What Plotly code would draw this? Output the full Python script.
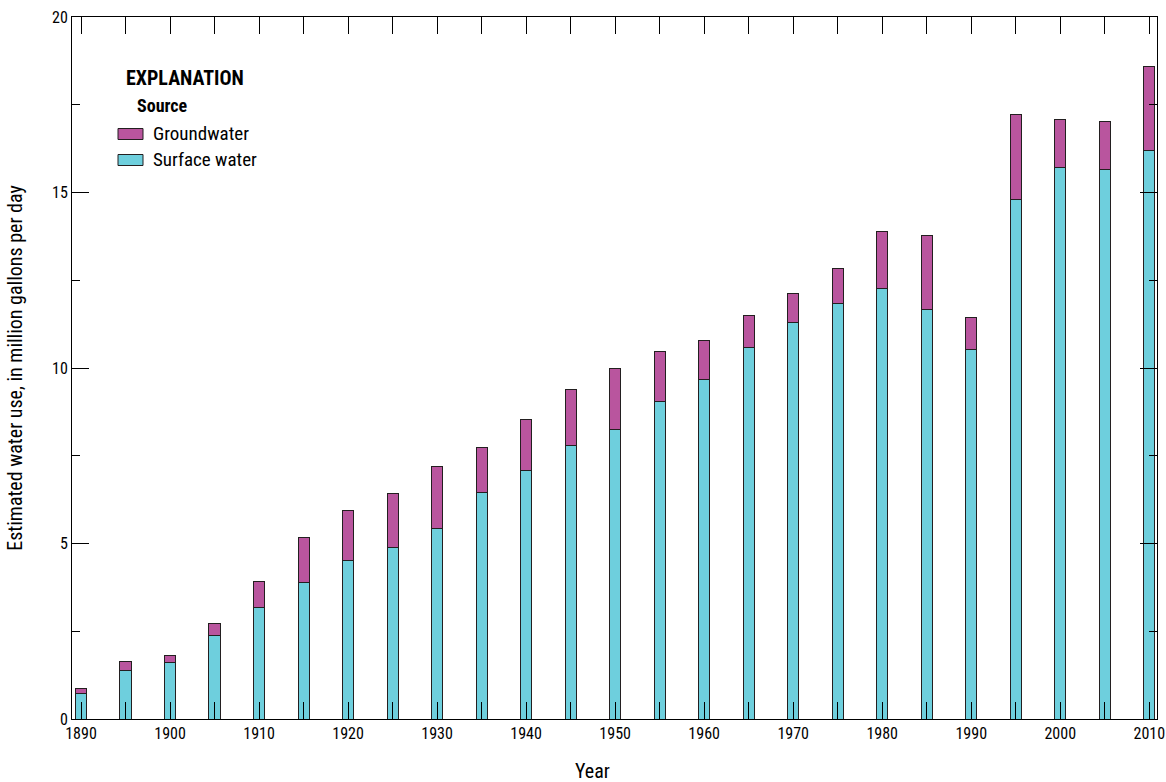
import plotly.graph_objects as go

years = [1890, 1895, 1900, 1905, 1910, 1915, 1920, 1925, 1930, 1935, 1940, 1945,
         1950, 1955, 1960, 1965, 1970, 1975, 1980, 1985, 1990, 1995, 2000, 2005, 2010]
surface_water = [0.73, 1.38, 1.62, 2.39, 3.18, 3.89, 4.53, 4.88, 5.44, 6.45, 7.07, 7.78,
                 8.24, 9.04, 9.66, 10.57, 11.29, 11.84, 12.27, 11.68, 10.54, 14.80, 15.72, 15.66, 16.20]
groundwater = [0.15, 0.25, 0.20, 0.34, 0.75, 1.29, 1.40, 1.54, 1.76, 1.28, 1.46, 1.60,
               1.76, 1.42, 1.11, 0.94, 0.83, 0.99, 1.63, 2.10, 0.91, 2.41, 1.35, 1.37, 2.39]
x_tick_labels = ["1890", "1900", "1910", "1920", "1930", "1940", "1950", "1960",
                 "1970", "1980", "1990", "2000", "2010"]
y_tick_labels = ["0", "5", "10", "15", "20"]

FONT = "Liberation Sans Narrow, Roboto Condensed, Arial Narrow, sans-serif"
SURF_COLOR = "#6ecfdd"
GW_COLOR = "#b9559e"
EDGE = "#231f20"

W, H = 1166, 782
ML, MR, MT, MB = 72, 9, 17, 63
PW, PH = W - ML - MR, H - MT - MB


def px(x):
    return (x - ML) / PW


def py(y):
    return (H - MB - y) / PH


fig = go.Figure()
fig.add_trace(go.Bar(x=years, y=surface_water, name="Surface water", width=1.25,
                     marker=dict(color=SURF_COLOR, line=dict(color=EDGE, width=1)),
                     showlegend=False))
fig.add_trace(go.Bar(x=years, y=groundwater, name="Groundwater", width=1.25,
                     marker=dict(color=GW_COLOR, line=dict(color=EDGE, width=1)),
                     showlegend=False))

# Legend (explanation) drawn manually
shapes = [
    dict(type="rect", xref="paper", yref="paper", x0=px(118), x1=px(143), y0=py(139.5), y1=py(128.5),
         fillcolor=GW_COLOR, line=dict(color=EDGE, width=1)),
    dict(type="rect", xref="paper", yref="paper", x0=px(118), x1=px(143), y0=py(165.5), y1=py(154.5),
         fillcolor=SURF_COLOR, line=dict(color=EDGE, width=1)),
]
annotations = [
    dict(text="<b>EXPLANATION</b>", xref="paper", yref="paper", x=px(124), y=py(78),
         xanchor="left", yanchor="middle", showarrow=False, font=dict(family=FONT, size=20, color="#000")),
    dict(text="<b>Source</b>", xref="paper", yref="paper", x=px(135), y=py(106),
         xanchor="left", yanchor="middle", showarrow=False, font=dict(family=FONT, size=18, color="#000")),
    dict(text="Groundwater", xref="paper", yref="paper", x=px(151), y=py(133),
         xanchor="left", yanchor="middle", showarrow=False, font=dict(family=FONT, size=19, color="#000")),
    dict(text="Surface water", xref="paper", yref="paper", x=px(151), y=py(159.5),
         xanchor="left", yanchor="middle", showarrow=False, font=dict(family=FONT, size=19, color="#000")),
    dict(text="Year", xref="paper", yref="paper", x=px(592), y=py(771),
         xanchor="center", yanchor="middle", showarrow=False, font=dict(family=FONT, size=20, color="#000")),
]

fig.update_layout(
    barmode="stack",
    width=W, height=H,
    margin=dict(l=ML, r=MR, t=MT, b=MB, pad=0),
    plot_bgcolor="white", paper_bgcolor="white",
    font=dict(family=FONT, size=17, color="#000"),
    shapes=shapes,
    annotations=annotations,
    xaxis=dict(
        range=[1888.989, 2010.865],
        automargin=False,
        tickmode="array", tickvals=[int(t) for t in x_tick_labels], ticktext=x_tick_labels,
        ticks="inside", ticklen=17, tickwidth=1, tickcolor="#000",
        minor=dict(dtick=5, tick0=1890, ticks="inside", ticklen=17, tickwidth=1, tickcolor="#000"),
        showline=True, linecolor="#000", linewidth=1, mirror="ticks",
        showgrid=False, zeroline=False,
        tickfont=dict(family=FONT, size=16),
    ),
    yaxis=dict(
        range=[0, 20],
        automargin=False,
        tickmode="array", tickvals=[int(t) for t in y_tick_labels], ticktext=y_tick_labels,
        ticks="inside", ticklen=17, tickwidth=1, tickcolor="#000",
        minor=dict(dtick=2.5, tick0=0, ticks="inside", ticklen=8, tickwidth=1, tickcolor="#000"),
        showline=True, linecolor="#000", linewidth=1, mirror="ticks",
        showgrid=False, zeroline=False,
        title=dict(text="Estimated water use, in million gallons per day",
                   font=dict(family=FONT, size=20), standoff=24),
        tickfont=dict(family=FONT, size=16),
    ),
)

fig.write_html("out.html")
